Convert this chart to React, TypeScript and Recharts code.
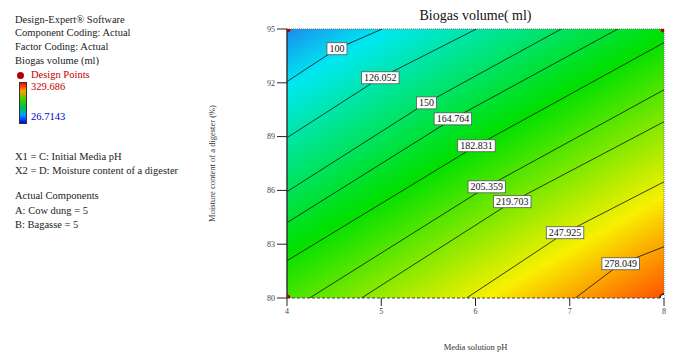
import React from 'react';
import {
  ComposedChart,
  Line,
  Scatter,
  XAxis,
  YAxis,
  ReferenceArea,
  ReferenceLine,
  Label,
} from 'recharts';

const SERIF = '"Liberation Serif", "Times New Roman", serif';

// axis ticks
const xTicks = [4, 5, 6, 7, 8];
const yTicks = [80, 83, 86, 89, 92, 95];

// contour levels
const contourLevels = ['100', '126.052', '150', '164.764', '182.831', '205.359', '219.703', '247.925', '278.049'];
// where each contour enters (left / bottom edge) and leaves (top / right edge)
const contourStart = [
  [4, 92.07], [4, 88.94], [4, 85.93], [4, 84.2], [4, 82.08],
  [4.24, 80], [4.79, 80], [5.905, 80], [7.06, 80],
];
const contourEnd = [
  [5.01, 95], [6.01, 95], [6.91, 95], [7.51, 95], [8, 94.24],
  [8, 91.61], [8, 89.83], [8, 86.48], [8, 82.86],
];
// label centres on each contour
const labelPos = [
  [4.53, 93.9], [4.99, 92.28], [5.48, 90.88], [5.76, 89.99], [6.01, 88.49],
  [6.12, 86.2], [6.39, 85.37], [6.95, 83.64], [7.54, 81.91],
];

// design points (corners of the design)
const designPoints = [
  { x: 4, y: 95 },
  { x: 4, y: 80 },
  { x: 8, y: 95 },
];
const openPoints = [{ x: 8, y: 80 }];

const contours = contourLevels.map((level, i) => ({
  level,
  points: [
    { x: contourStart[i][0], y: contourStart[i][1] },
    { x: labelPos[i][0], y: labelPos[i][1] },
    { x: contourEnd[i][0], y: contourEnd[i][1] },
  ],
}));

const labelPoints = contourLevels.map((level, i) => ({ x: labelPos[i][0], y: labelPos[i][1], level }));

const ContourTag = (props: any) => {
  const { cx, cy, payload } = props;
  const text: string = payload.level;
  const w = text.replace('.', '').length * 5 + (text.includes('.') ? 2.5 : 0) + 5;
  return (
    <g>
      <rect x={cx - w / 2} y={cy - 6} width={w} height={12} fill="#fff" stroke="#555" strokeWidth={0.8} />
      <text x={cx} y={cy + 3.5} textAnchor="middle" fontSize={10} fontFamily={SERIF} fill="#111">
        {text}
      </text>
    </g>
  );
};

const RedDot = (props: any) => <circle cx={props.cx} cy={props.cy} r={3.5} fill="#b00000" />;
const OpenDot = (props: any) => (
  <circle cx={props.cx} cy={props.cy} r={4} fill="#fff" stroke="#3a0a00" strokeWidth={1.5} />
);

const panelText: React.CSSProperties = {
  position: 'absolute',
  left: 15,
  fontFamily: SERIF,
  fontSize: 10.5,
  color: '#222',
  whiteSpace: 'nowrap',
  lineHeight: '12px',
};

const LeftPanel = () => (
  <>
    <div style={{ ...panelText, top: 14 }}>Design-Expert® Software</div>
    <div style={{ ...panelText, top: 27 }}>Component Coding: Actual</div>
    <div style={{ ...panelText, top: 41 }}>Factor Coding: Actual</div>
    <div style={{ ...panelText, top: 55 }}>Biogas volume (ml)</div>
    <div style={{ position: 'absolute', left: 17, top: 72, width: 7, height: 7, borderRadius: 4, background: '#b00000' }} />
    <div style={{ ...panelText, left: 31, top: 69, color: '#c00000' }}>Design Points</div>
    <div
      style={{
        position: 'absolute',
        left: 19,
        top: 82,
        width: 6,
        height: 40,
        background: 'linear-gradient(to bottom, #ff0000, #ffa000, #40d000, #00c040, #00a0ff, #0000ff)',
        border: '0.5px solid #333',
      }}
    />
    <div style={{ ...panelText, left: 31, top: 81, color: '#c00000' }}>329.686</div>
    <div style={{ ...panelText, left: 31, top: 111, color: '#0000cc' }}>26.7143</div>
    <div style={{ ...panelText, top: 151 }}>X1 = C: Initial Media pH</div>
    <div style={{ ...panelText, top: 165 }}>X2 = D: Moisture content of a digester</div>
    <div style={{ ...panelText, top: 190 }}>Actual Components</div>
    <div style={{ ...panelText, top: 205 }}>A: Cow dung = 5</div>
    <div style={{ ...panelText, top: 219 }}>B: Bagasse = 5</div>
  </>
);

export default function App() {
  return (
    <div style={{ position: 'absolute', left: 0, top: 0, width: 674, height: 352, background: '#fff' }}>
      <LeftPanel />
      <div
        style={{
          position: 'absolute',
          left: 287,
          width: 377,
          top: 8,
          textAlign: 'center',
          fontFamily: SERIF,
          fontSize: 14,
          color: '#111',
        }}
      >
        Biogas volume( ml)
      </div>
      <ComposedChart
        width={674}
        height={352}
        margin={{ top: 29, right: 10, bottom: 0, left: 207 }}
        style={{ position: 'absolute', left: 0, top: 0 }}
      >
        <defs>
          <linearGradient id="surface" x1="0" y1="0" x2="0.878" y2="1.098">
            <stop offset="0" stopColor="#1a8cf0" />
            <stop offset="0.12" stopColor="#00e8f0" />
            <stop offset="0.46" stopColor="#00e000" />
            <stop offset="0.79" stopColor="#f8f000" />
            <stop offset="1" stopColor="#ff5000" />
          </linearGradient>
        </defs>
        <XAxis
          type="number"
          dataKey="x"
          domain={[4, 8]}
          ticks={xTicks}
          allowDataOverflow
          height={54}
          tickSize={8}
          tickLine={{ stroke: '#222' }}
          axisLine={{ stroke: '#444', strokeDasharray: '3 2' }}
          tick={{ fontSize: 8, fill: '#444', fontFamily: SERIF }}
        >
          <Label
            value="Media solution pH"
            position="insideBottom"
            offset={2}
            style={{ fontSize: 8.5, fill: '#333', fontFamily: SERIF }}
          />
        </XAxis>
        <YAxis
          type="number"
          dataKey="y"
          domain={[80, 95]}
          ticks={yTicks}
          allowDataOverflow
          width={80}
          tickSize={10}
          tickLine={{ stroke: '#222' }}
          axisLine={{ stroke: '#333', strokeWidth: 1.5 }}
          tick={{ fontSize: 8, fill: '#444', fontFamily: SERIF }}
        >
          <Label
            value="Moisture content of a digester (%)"
            angle={-90}
            position="insideLeft"
            offset={5}
            style={{ fontSize: 8.5, fill: '#333', fontFamily: SERIF, textAnchor: 'middle' }}
          />
        </YAxis>
        <ReferenceArea x1={4} x2={8} y1={80} y2={95} fill="url(#surface)" fillOpacity={1} stroke="none" />
        <ReferenceLine y={95} stroke="#777" strokeDasharray="1 1" />
        <ReferenceLine x={8} stroke="#777" strokeDasharray="1 1" />
        {contours.map((c) => (
          <Line
            key={c.level}
            data={c.points}
            dataKey="y"
            type="linear"
            stroke="#111"
            strokeWidth={0.8}
            dot={false}
            activeDot={false}
            isAnimationActive={false}
          />
        ))}
        <Scatter data={labelPoints} dataKey="y" shape={ContourTag} isAnimationActive={false} />
        <Scatter data={designPoints} dataKey="y" shape={RedDot} isAnimationActive={false} />
        <Scatter data={openPoints} dataKey="y" shape={OpenDot} isAnimationActive={false} />
      </ComposedChart>
    </div>
  );
}
